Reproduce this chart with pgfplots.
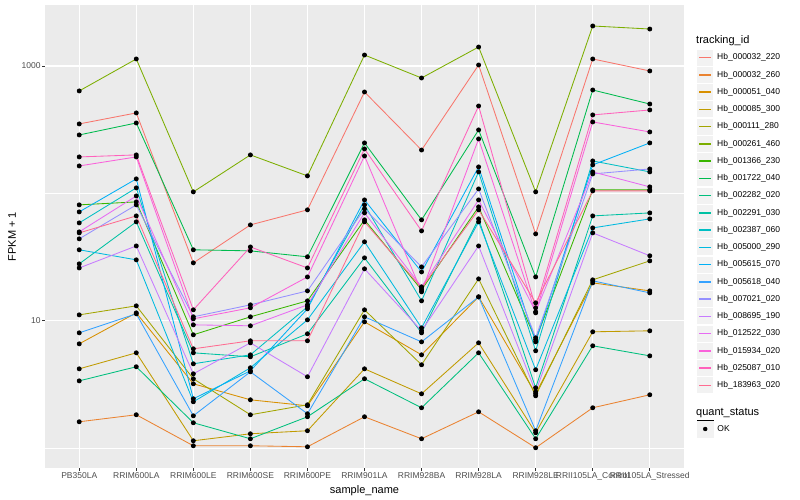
\documentclass[border=0pt]{standalone}
\usepackage{fontspec}
\setmainfont{Liberation Sans}
\usepackage{pgfplots}
\usepackage{pgfplotstable}
\pgfplotsset{compat=1.18}

\definecolor{c1}{HTML}{F8766D}
\definecolor{c2}{HTML}{EA8331}
\definecolor{c3}{HTML}{D89000}
\definecolor{c4}{HTML}{C09B00}
\definecolor{c5}{HTML}{A3A500}
\definecolor{c6}{HTML}{7CAE00}
\definecolor{c7}{HTML}{39B600}
\definecolor{c8}{HTML}{00BB4E}
\definecolor{c9}{HTML}{00BF7D}
\definecolor{c10}{HTML}{00C1A3}
\definecolor{c11}{HTML}{00BFC4}
\definecolor{c12}{HTML}{00BAE0}
\definecolor{c13}{HTML}{00B0F6}
\definecolor{c14}{HTML}{35A2FF}
\definecolor{c15}{HTML}{9590FF}
\definecolor{c16}{HTML}{C77CFF}
\definecolor{c17}{HTML}{E76BF3}
\definecolor{c18}{HTML}{FA62DB}
\definecolor{c19}{HTML}{FF62BC}
\definecolor{c20}{HTML}{FF6C91}
\definecolor{panel}{HTML}{EBEBEB}
\definecolor{ticktext}{HTML}{4D4D4D}
\definecolor{tickline}{HTML}{333333}
\definecolor{keybg}{HTML}{F2F2F2}

% FPKM + 1, one row per sample (0 = PB350LA ... 10 = RRII105LA_Stressed)
\pgfplotstableread{
x s1 s2 s3 s4 s5 s6 s7 s8 s9 s10 s11 s12 s13 s14 s15 s16 s17 s18 s19 s20
0 351 1.614 6.60 4.20 11.14 637 81.3 287.6 3.38 28.0 58.7 36.1 71.6 8.05 44.0 26.0 49.9 164.3 193.3 49.0
1 428 1.832 11.55 5.61 13.11 1135 85.8 357 4.36 59.8 110.5 30.1 130 11.35 81.3 38.7 95.5 193.3 200.5 66.6
2 28.5 1.046 3.206 1.145 3.51 102.8 7.77 36.1 1.585 5.61 4.60 2.316 2.445 1.798 10.75 3.84 9.30 10.37 12.20 6.03
3 56.6 1.046 2.40 1.299 1.832 200.5 10.75 35.4 1.187 5.22 5.41 4.28 4.05 3.98 13.35 6.72 9.14 12.65 38.0 6.97
4 74.3 1.027 2.154 1.372 2.194 137.2 14.35 31.8 1.766 7.91 12.88 10.18 12.42 1.865 17.18 3.64 13.35 22.1 26.0 6.97
5 625 1.766 9.82 4.20 12.20 1219 62.0 249 3.51 31.2 81.3 41.7 88.9 10.75 75.6 25.6 70.3 196.8 223.4 59.8
6 219 1.187 5.41 2.675 4.52 805 17.5 62.0 2.078 8.05 14.35 8.81 24.2 6.84 26.5 8.35 18.49 16.89 50.8 18.15
7 1018 1.932 15.42 6.72 21.35 1409 78.4 315 5.61 63.1 147.5 59.8 161.4 15.42 108.4 38.7 88.9 267.6 485.5 74.3
8 48.1 1.009 2.675 1.323 2.58 102.8 7.10 22.1 1.187 2.98 5.82 4.13 6.84 1.372 7.36 2.77 11.77 11.55 12.65 13.84
9 1135 2.078 19.86 8.20 20.97 2060 106.5 648 6.37 66.6 179.8 53.6 167.4 20.6 142.2 49.0 147.5 363.8 413 104.6
10 914 2.628 17.18 8.35 29.55 1950 106.5 503 5.31 70.3 147.5 63.1 249 16.58 155.6 32.4 112.5 303.6 451.6 104.6
}\fpkm

\pgfplotsset{
  ser/.style={color=#1, line width=0.85pt, mark=*, mark size=2pt,
    mark options={draw=black, fill=black}},
}

\begin{document}
\begin{tikzpicture}
\path[use as bounding box] (0,0) rectangle (800pt,500pt);
\begin{axis}[
  at={(45pt,32pt)}, anchor=south west,
  scale only axis, width=639pt, height=463pt,
  ymode=log, ymin=0.70, ymax=3010,
  xmin=-0.6, xmax=10.6,
  xtick={0,...,10},
  xticklabels={PB350LA,RRIM600LA,RRIM600LE,RRIM600SE,RRIM600PE,RRIM901LA,RRIM928BA,RRIM928LA,RRIM928LE,RRII105LA\_Control,RRII105LA\_Stressed},
  ytick={10,1000}, yticklabels={10,1000},
  extra y ticks={1,100}, extra y tick labels={},
  extra y tick style={major tick length=0pt, grid=major,
    major grid style={white, line width=0.55pt}},
  grid=major, major grid style={white, line width=1.1pt},
  axis background/.style={fill=panel},
  axis line style={draw=none},
  xtick pos=bottom, ytick pos=left,
  tick align=outside, major tick length=2.75pt,
  tick style={color=tickline, line width=0.8pt},
  minor tick num=0,
  /pgf/number format/assume math mode=true,
  ticklabel style={font=\fontsize{8.5}{10}\selectfont, text=ticktext},
  xticklabel style={inner sep=1.5pt},
  yticklabel style={inner sep=1.5pt},
  xlabel={sample\_name}, ylabel={FPKM + 1},
  label style={font=\fontsize{11}{13}\selectfont},
  xlabel style={at={(axis description cs:0.5,0)}, anchor=center, yshift=-22.5pt},
  ylabel style={at={(axis description cs:0,0.5)}, anchor=center, yshift=33pt},
]
\addplot[ser=c1]  table[x=x,y=s1]  {\fpkm};
\addplot[ser=c2]  table[x=x,y=s2]  {\fpkm};
\addplot[ser=c3]  table[x=x,y=s3]  {\fpkm};
\addplot[ser=c4]  table[x=x,y=s4]  {\fpkm};
\addplot[ser=c5]  table[x=x,y=s5]  {\fpkm};
\addplot[ser=c6]  table[x=x,y=s6]  {\fpkm};
\addplot[ser=c7]  table[x=x,y=s7]  {\fpkm};
\addplot[ser=c8]  table[x=x,y=s8]  {\fpkm};
\addplot[ser=c9]  table[x=x,y=s9]  {\fpkm};
\addplot[ser=c10] table[x=x,y=s10] {\fpkm};
\addplot[ser=c11] table[x=x,y=s11] {\fpkm};
\addplot[ser=c12] table[x=x,y=s12] {\fpkm};
\addplot[ser=c13] table[x=x,y=s13] {\fpkm};
\addplot[ser=c14] table[x=x,y=s14] {\fpkm};
\addplot[ser=c15] table[x=x,y=s15] {\fpkm};
\addplot[ser=c16] table[x=x,y=s16] {\fpkm};
\addplot[ser=c17] table[x=x,y=s17] {\fpkm};
\addplot[ser=c18] table[x=x,y=s18] {\fpkm};
\addplot[ser=c19] table[x=x,y=s19] {\fpkm};
\addplot[ser=c20] table[x=x,y=s20] {\fpkm};
\end{axis}

% second legend: quant_status
\begin{axis}[
  at={(697pt,71pt)}, anchor=south west,
  scale only axis, width=1pt, height=1pt, hide axis,
  xmin=0, xmax=1, ymin=0, ymax=1,
  legend image code/.code={
    \path (0pt,-8.625pt) rectangle (16pt,8.625pt);
    \fill[keybg] (0pt,-8pt) rectangle (16pt,8pt);
    \draw[#1] plot coordinates {(8pt,0pt)};},
  legend cell align=left,
  legend style={at={(0,0)}, anchor=west, draw=none, fill=none,
    inner sep=0pt, outer sep=0pt, nodes={inner sep=0pt},
    font=\fontsize{8.5}{10}\selectfont,
    /tikz/every odd column/.append style={column sep=4pt}},
]
\addlegendimage{only marks, mark=*, mark size=2pt, black}
\addlegendentry{OK}
\end{axis}

% tracking_id legend
\node[anchor=west, inner sep=0pt, font=\fontsize{11}{13}\selectfont] at (696pt,459.3pt) {tracking\_id};
\foreach \i/\lab [evaluate=\i as \yc using 442.3-(\i-1)*17.25] in {
  1/Hb\_000032\_220, 2/Hb\_000032\_260, 3/Hb\_000051\_040, 4/Hb\_000085\_300,
  5/Hb\_000111\_280, 6/Hb\_000261\_460, 7/Hb\_001366\_230, 8/Hb\_001722\_040,
  9/Hb\_002282\_020, 10/Hb\_002291\_030, 11/Hb\_002387\_060, 12/Hb\_005000\_290,
  13/Hb\_005615\_070, 14/Hb\_005618\_040, 15/Hb\_007021\_020, 16/Hb\_008695\_190,
  17/Hb\_012522\_030, 18/Hb\_015934\_020, 19/Hb\_025087\_010, 20/Hb\_183963\_020} {
  \fill[keybg] (697pt,\yc pt-8pt) rectangle (713pt,\yc pt+8pt);
  \draw[c\i, line width=1.4pt] (699pt,\yc pt) -- (711pt,\yc pt);
  \node[anchor=west, inner sep=0pt, font=\fontsize{8.5}{10}\selectfont] at (717pt,\yc pt) {\lab};
}
\node[anchor=west, inner sep=0pt, font=\fontsize{11}{13}\selectfont] at (696pt,87.3pt) {quant\_status};
\end{tikzpicture}
\end{document}
